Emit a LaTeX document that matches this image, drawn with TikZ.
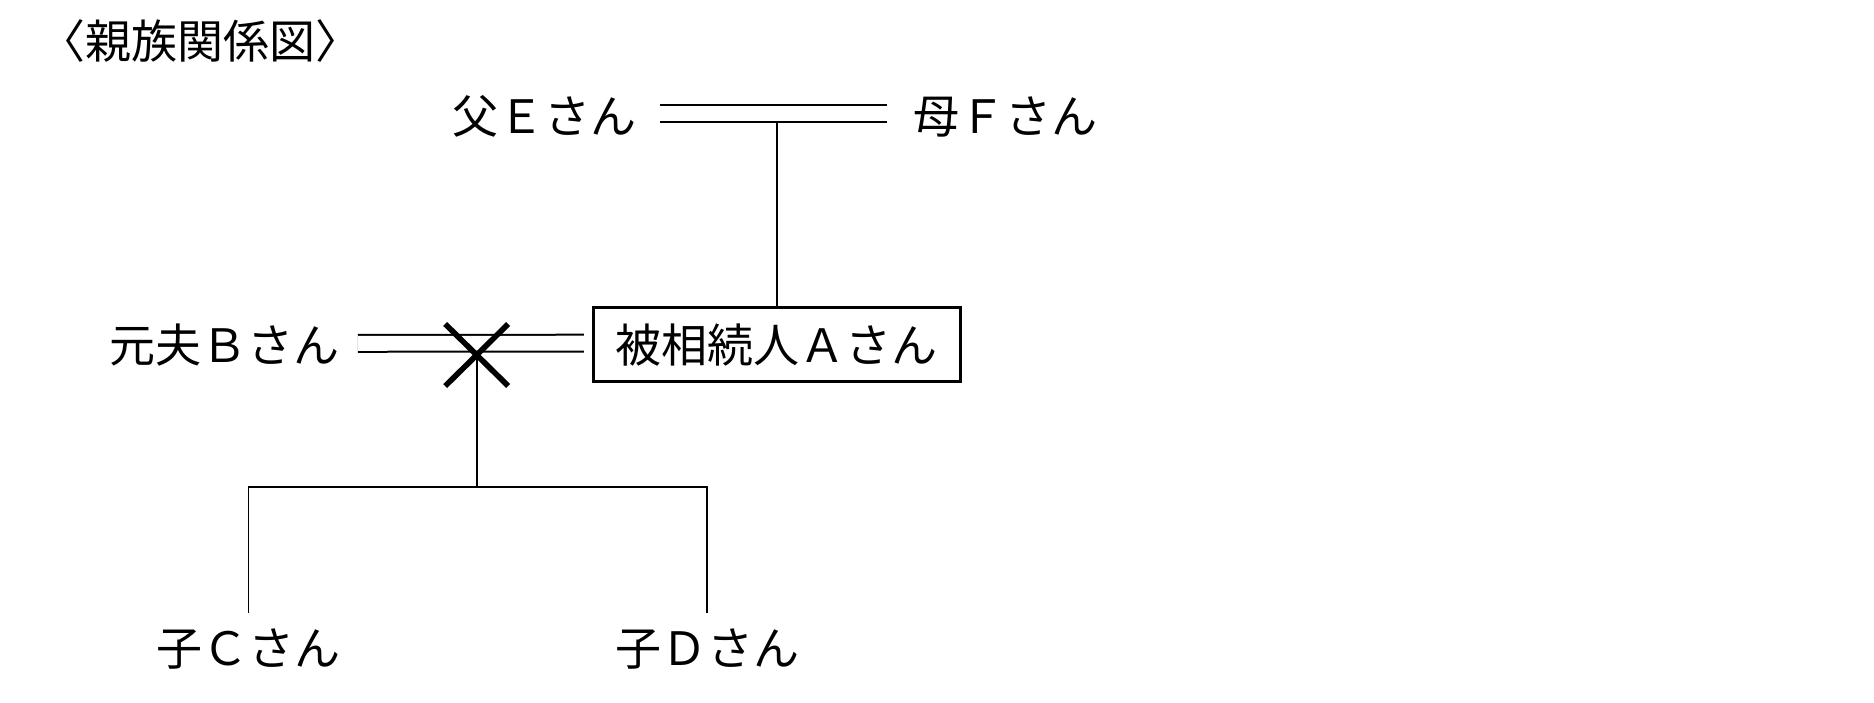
\documentclass[tikz,border=0pt]{standalone}
\usepackage{fontspec}
\newfontfamily\jpfont{Noto Sans CJK JP}
\usetikzlibrary{positioning}
\tikzset{/kin/person/.style={inner sep=0pt, outer sep=0pt, font=\jpfont\fontsize{23pt}{27pt}\selectfont, text height=20.2pt, text depth=2.8pt
}}
\tikzset{/kin/deceased/.style={/kin/person, draw, line width=1.5pt, inner xsep=11.3pt, inner ysep=7.1pt
}}
\tikzset{/kin/line/.style={line width=0.9pt
}}
\tikzset{/kin/marriage/.style={line width=1pt, double, double distance=7.4pt
}}
\tikzset{/kin/cross/.style={line width=2.8pt
}}

\begin{document}
\begin{tikzpicture}[x=0.5pt, y=-0.5pt]
		\useasboundingbox (0,0) rectangle (1874,702);
		\node[/kin/person] (title) at (200.5,41) {〈親族関係図〉};
		% parents
		\node[/kin/person] (father) at (544.5,116) {父Ｅさん};
		\node[/kin/person] (mother) at (1005,116) {母Ｆさん};
		% couple
		\node[/kin/person] (exhusband) at (224.8,345) {元夫Ｂさん};
		\node[/kin/deceased] (deceased) at (776.7,344.7) {被相続人Ａさん};
		% children
		\node[/kin/person] (childC) at (248.5,648) {子Ｃさん};
		\node[/kin/person] (childD) at (707,648) {子Ｄさん};
		\coordinate (split) at (476.7,355);
		\coordinate (bar) at (476.7,487);

		\draw[/kin/line] (deceased.north) -- (deceased.north |- father);
		\draw[/kin/marriage, shorten <=11.75pt, shorten >=13pt] ([yshift=1.15pt]father.east) -- ([yshift=1.15pt]mother.west);
		\draw[/kin/marriage, shorten <=9pt, shorten >=4.6pt] ([yshift=0.8pt]exhusband.east) -- ([yshift=0.8pt]deceased.west);
		\draw[/kin/cross] (split) ++(-31.5,-31) -- ++(63,62) (split) ++(31.5,-31) -- ++(-63,62);
		\draw[/kin/line] (split) -- (bar);
		\draw[/kin/line, shorten <=6pt, shorten >=6pt] (childC.north) |- (bar) -| (childD.north);
	\end{tikzpicture}
\end{document}
